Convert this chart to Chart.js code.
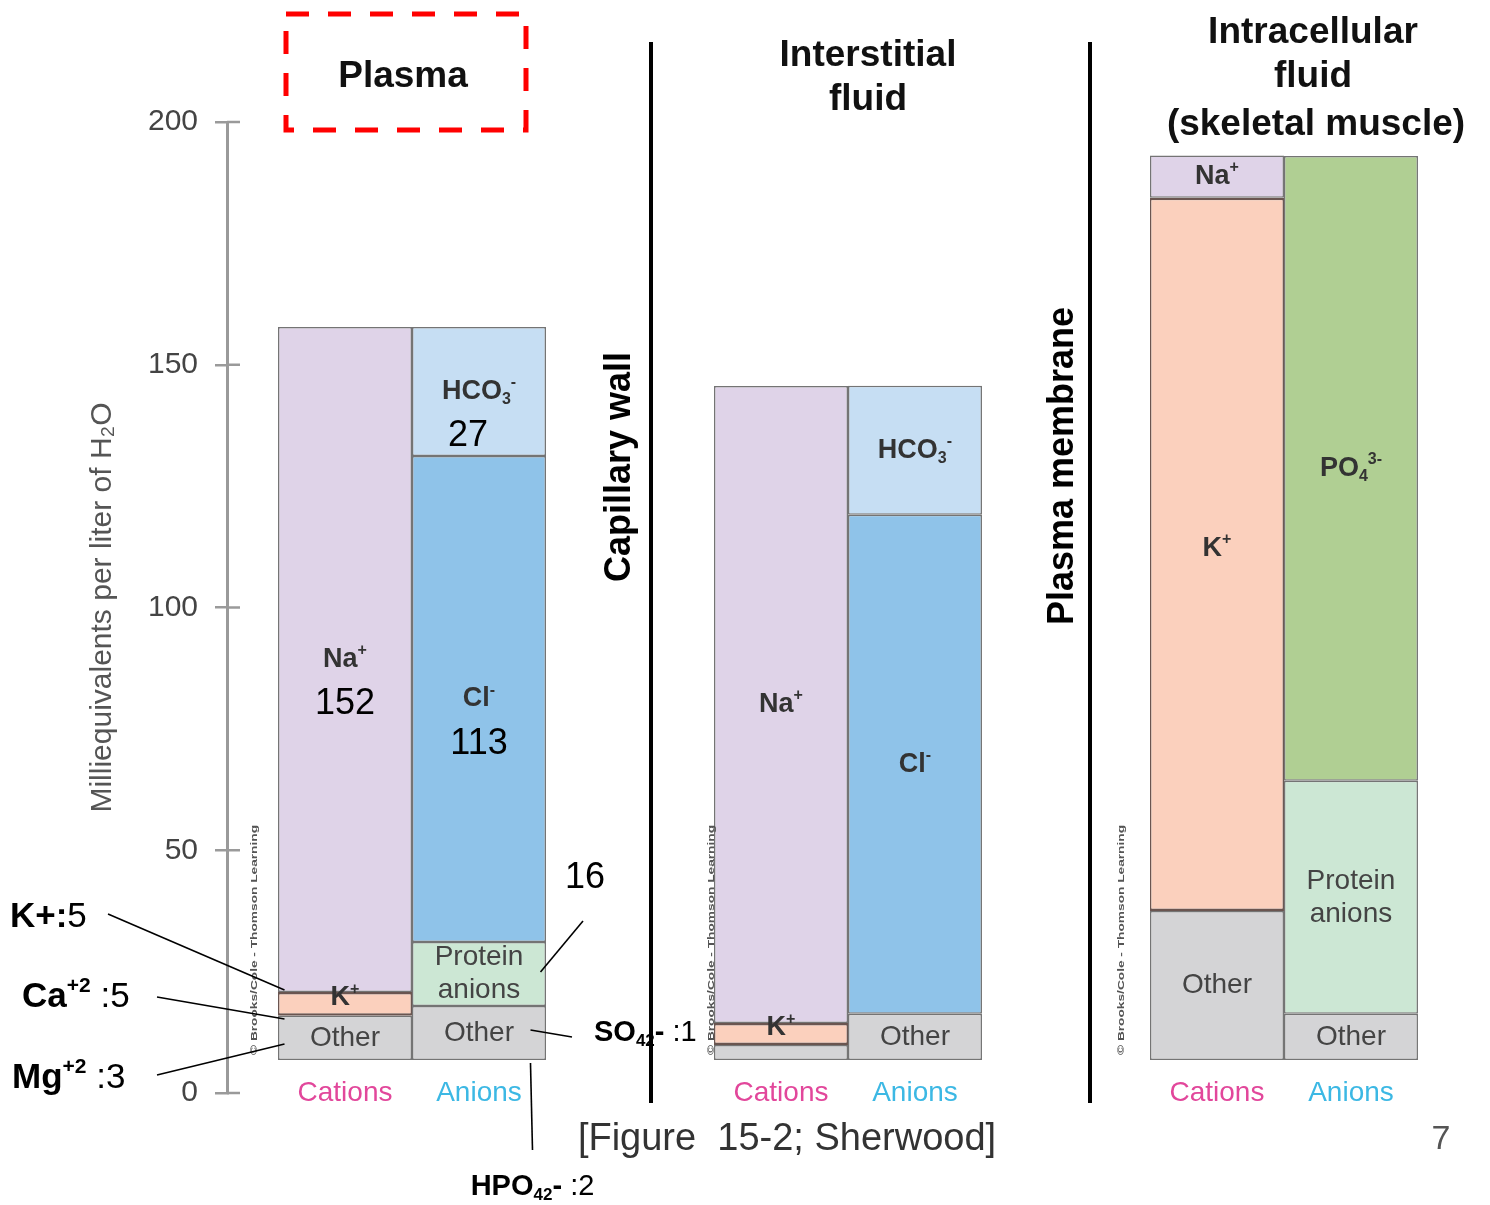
<!DOCTYPE html>
<html>
<head>
<meta charset="utf-8">
<script src="https://cdn.jsdelivr.net/npm/chart.js@4.4.1/dist/chart.umd.min.js"></script>
<style>
  html, body { margin: 0; padding: 0; background: #fff; }
  canvas { display: block; }
</style>
</head>
<body>
<canvas id="chart" width="1490" height="1205"></canvas>
<script>
const FONT = '"Liberation Sans", Arial, Helvetica, sans-serif';

const groups = ["Plasma", "Interstitial fluid", "Intracellular fluid"];
const yTicks = [0, 50, 100, 150, 200];

// layer heights in mEq/L, one per group
const cationOther = [9.1, 3.1, 30.7];
const cationK = [4.9, 4.5, 146.9];
const cationNa = [137.0, 131.2, 8.7];
const anionOther = [11.1, 9.5, 9.5];
const proteinAnions = [13.2, null, 48.0];
const chloride = [100.1, 102.8, null];
const bicarbonate = [26.6, 26.6, null];
const phosphate = [null, null, 128.7];

// text written inside the layers
const otherLabels = ["Other", null, "Other"];
const kLabels = ["K^{+}", "K^{+}", "K^{+}"];
const naLabels = ["Na^{+}", "Na^{+}", "Na^{+}"];
const anionOtherLabels = ["Other", "Other", "Other"];
const proteinLabels = ["Protein\nanions", null, "Protein\nanions"];
const clLabels = ["Cl^{-}", "Cl^{-}", null];
const hco3Labels = ["HCO_{3}^{-}", "HCO_{3}^{-}", null];
const po4Labels = [null, null, "PO_{4}^{3-}"];

// numbers written over the textbook figure
const naNotes = ["152", null, null];
const clNotes = ["113", null, null];
const hco3Notes = ["27", null, null];

const layers = [
  { label: "Other", stack: "Cations", values: cationOther, color: "#d4d4d6", text: otherLabels },
  { label: "K+", stack: "Cations", values: cationK, color: "#fbd0bd", text: kLabels, bold: true, dy: -6, edge: "#6a5550" },
  { label: "Na+", stack: "Cations", values: cationNa, color: "#dfd3e8", text: naLabels, bold: true, notes: naNotes },
  { label: "Other", stack: "Anions", values: anionOther, color: "#d4d4d6", text: anionOtherLabels },
  { label: "Protein anions", stack: "Anions", values: proteinAnions, color: "#cce7d4", text: proteinLabels },
  { label: "Cl-", stack: "Anions", values: chloride, color: "#8fc3e9", text: clLabels, bold: true, notes: clNotes },
  { label: "HCO3-", stack: "Anions", values: bicarbonate, color: "#c6def3", text: hco3Labels, bold: true, notes: hco3Notes, noteDx: -11 },
  { label: "PO4 3-", stack: "Anions", values: phosphate, color: "#b0cf93", text: po4Labels, bold: true }
];

// callouts next to the plasma bars; "bar" marks the end that touches a bar
const callouts = [
  { text: "*K+:*5", x: 10, y: 917, size: 35, line: [108, 914, 279, 990], bar: [false, true] },
  { text: "*Ca^{+2}* :5", x: 22, y: 997, size: 35, line: [157, 997, 279, 1019], bar: [false, true] },
  { text: "*Mg^{+2}* :3", x: 12, y: 1078, size: 35, line: [157, 1075, 279, 1044], bar: [false, true] },
  { text: "16", x: 585, y: 878, size: 36, center: true, line: [583, 921, 535, 972], bar: [false, true] },
  { text: "*SO_{42}-* :1", x: 594, y: 1033, size: 29, line: [572, 1037, 525, 1030], bar: [false, true] },
  { text: "*HPO_{42}-* :2", x: 527, y: 1187, size: 29, center: true, line: [527, 1150, 525, 1063], bar: [true, true] }
];

// tiny rich text: *bold*, ^{sup}, _{sub}
function parseRich(s) {
  const runs = [];
  let bold = false, buf = "", i = 0;
  const flush = () => { if (buf) runs.push({ t: buf, bold, mode: "n" }); buf = ""; };
  while (i < s.length) {
    const c = s[i];
    if (c === "*") { flush(); bold = !bold; i++; }
    else if ((c === "^" || c === "_") && s[i + 1] === "{") {
      flush();
      const end = s.indexOf("}", i);
      runs.push({ t: s.slice(i + 2, end), bold, mode: c === "^" ? "sup" : "sub" });
      i = end + 1;
    } else { buf += c; i++; }
  }
  flush();
  return runs;
}

function drawRich(ctx, s, x, y, size, opts) {
  const runs = parseRich(s);
  const fontFor = (r) => ((r.bold || opts.bold) ? "bold " : "") +
    (r.mode === "n" ? size : Math.round(size * 0.6)) + "px " + FONT;
  let w = 0;
  runs.forEach((r) => { ctx.font = fontFor(r); r.w = ctx.measureText(r.t).width; w += r.w; });
  let cx = opts.center ? x - w / 2 : x;
  ctx.textAlign = "left";
  ctx.textBaseline = "middle";
  ctx.fillStyle = opts.color;
  runs.forEach((r) => {
    ctx.font = fontFor(r);
    const dy = r.mode === "sup" ? -size * 0.32 : r.mode === "sub" ? size * 0.3 : 0;
    ctx.fillText(r.t, cx, y + dy);
    cx += r.w;
  });
}

const figurePlugin = {
  id: "figure",
  afterDraw(chart) {
    const ctx = chart.ctx;
    const ys = chart.scales.y;
    ctx.save();

    // tick stubs crossing into the plot
    ctx.strokeStyle = "#9a9a9a";
    ctx.lineWidth = 2.5;
    yTicks.forEach((v) => {
      const py = ys.getPixelForValue(v);
      ctx.beginPath(); ctx.moveTo(ys.right, py); ctx.lineTo(ys.right + 13, py); ctx.stroke();
    });

    // labels inside the segments
    chart.data.datasets.forEach((ds, di) => {
      const meta = chart.getDatasetMeta(di);
      meta.data.forEach((el, gi) => {
        const txt = ds.text && ds.text[gi];
        if (!txt || ds.data[gi].y == null) return;
        const cy = (el.y + el.base) / 2 + (ds.dy || 0);
        const lines = txt.split("\n");
        lines.forEach((ln, li) => {
          drawRich(ctx, ln, el.x, cy + (li - (lines.length - 1) / 2) * 33, ds.bold ? 27 : 28,
            { center: true, bold: ds.bold, color: ds.bold ? "#333" : "#444" });
        });
        const note = ds.notes && ds.notes[gi];
        if (note) {
          ctx.font = "36px " + FONT;
          ctx.fillStyle = "#000";
          ctx.textAlign = "center";
          ctx.textBaseline = "middle";
          ctx.fillText(note, el.x + (ds.noteDx || 0), cy + 45);
        }
      });
    });

    // Cations / Anions under the bars
    const catMeta = chart.getDatasetMeta(0);
    const anMeta = chart.getDatasetMeta(3);
    ctx.font = "28px " + FONT;
    ctx.textAlign = "center";
    ctx.textBaseline = "middle";
    groups.forEach((g, gi) => {
      ctx.fillStyle = "#e2479b";
      ctx.fillText("Cations", catMeta.data[gi].x, 1093);
      ctx.fillStyle = "#3cb8e4";
      ctx.fillText("Anions", anMeta.data[gi].x, 1093);
    });

    // small vertical credit lines
    [255, 712, 1122].forEach((x) => {
      ctx.save();
      ctx.translate(x, 940);
      ctx.rotate(-Math.PI / 2);
      ctx.font = "bold 9px " + FONT;
      const w = ctx.measureText("© Brooks/Cole - Thomson Learning").width;
      ctx.scale(230 / w, 1);
      ctx.fillStyle = "#555";
      ctx.textAlign = "center";
      ctx.textBaseline = "middle";
      ctx.fillText("© Brooks/Cole - Thomson Learning", 0, 0);
      ctx.restore();
    });

    // group titles
    ctx.fillStyle = "#111";
    ctx.font = "bold 37px " + FONT;
    ctx.textAlign = "center";
    ctx.textBaseline = "middle";
    ctx.fillText("Plasma", 403, 77);
    ctx.fillText("Interstitial", 868, 56);
    ctx.fillText("fluid", 868, 100);
    ctx.fillText("Intracellular", 1313, 33);
    ctx.fillText("fluid", 1313, 77);
    ctx.fillText("(skeletal muscle)", 1316, 125);

    // red dashed box around Plasma
    ctx.strokeStyle = "#ff0000";
    ctx.lineWidth = 5;
    ctx.setLineDash([23, 19]);
    ctx.strokeRect(286, 14, 240, 116);
    ctx.setLineDash([]);

    // membranes
    ctx.strokeStyle = "#000";
    ctx.lineWidth = 4;
    [651, 1090].forEach((x) => {
      ctx.beginPath(); ctx.moveTo(x, 42); ctx.lineTo(x, 1103); ctx.stroke();
    });
    ctx.font = "bold 36px " + FONT;
    ctx.fillStyle = "#000";
    [["Capillary wall", 620, 467], ["Plasma membrane", 1063, 466]].forEach(([t, x, y]) => {
      ctx.save();
      ctx.translate(x, y);
      ctx.rotate(-Math.PI / 2);
      ctx.fillText(t, 0, 0);
      ctx.restore();
    });

    // callouts, bar ends follow the plasma bars
    const shift = catMeta.data[0].x - 339.5;
    ctx.strokeStyle = "#000";
    ctx.lineWidth = 1.6;
    callouts.forEach((c) => {
      const [x1, y1, x2, y2] = c.line;
      ctx.beginPath();
      ctx.moveTo(x1 + (c.bar[0] ? shift : 0), y1);
      ctx.lineTo(x2 + (c.bar[1] ? shift : 0), y2);
      ctx.stroke();
      drawRich(ctx, c.text, c.x + (c.bar[0] ? shift : 0), c.y, c.size, { center: c.center, color: "#000" });
    });

    // source and page number
    ctx.font = "38px " + FONT;
    ctx.fillStyle = "#333";
    ctx.textAlign = "center";
    ctx.textBaseline = "middle";
    ctx.fillText("[Figure  15-2; Sherwood]", 787, 1140);
    ctx.font = "34px " + FONT;
    ctx.fillStyle = "#555";
    ctx.fillText("7", 1441, 1140);

    ctx.restore();
  }
};

const datasets = layers.map((l) => ({
  label: l.label,
  stack: l.stack,
  data: l.values.map((v, i) => ({ x: i, y: v })),
  backgroundColor: l.color,
  borderColor: l.edge || "#747474",
  borderWidth: l.edge ? { top: 2.5, bottom: 2.5, left: 1.5, right: 1.5 } : 1.5,
  borderSkipped: false,
  xAxisID: "x",
  yAxisID: "yb",
  text: l.text,
  notes: l.notes,
  noteDx: l.noteDx,
  bold: l.bold,
  dy: l.dy
}));

new Chart(document.getElementById("chart"), {
  type: "bar",
  data: { datasets },
  plugins: [figurePlugin],
  options: {
    responsive: false,
    devicePixelRatio: 1,
    animation: false,
    categoryPercentage: 0.6147,
    barPercentage: 1,
    layout: { padding: { left: 0, right: 10, top: 122, bottom: 112 } },
    plugins: { legend: { display: false }, tooltip: { enabled: false } },
    scales: {
      x: {
        type: "linear",
        display: false,
        offset: false,
        stacked: true,
        min: -0.4243,
        max: 2.4496,
        afterBuildTicks: (s) => { s.ticks = groups.map((g, i) => ({ value: i })); }
      },
      yb: {
        display: false,
        stacked: true,
        min: -6.8,
        max: 193.2
      },
      y: {
        position: "left",
        min: 0,
        max: 200,
        afterBuildTicks: (s) => { s.ticks = yTicks.map((v) => ({ value: v })); },
        afterFit: (s) => { s.width = 227; },
        ticks: { color: "#444", padding: 17, font: { family: FONT, size: 30 } },
        grid: { drawOnChartArea: false, drawTicks: true, tickLength: 12, color: "#9a9a9a", lineWidth: 2.5 },
        border: { display: true, color: "#9a9a9a", width: 3 },
        title: {
          display: true,
          text: "Milliequivalents per liter of H₂O",
          color: "#555",
          font: { family: FONT, size: 30 },
          padding: { top: 85 }
        }
      }
    }
  }
});
</script>
</body>
</html>
